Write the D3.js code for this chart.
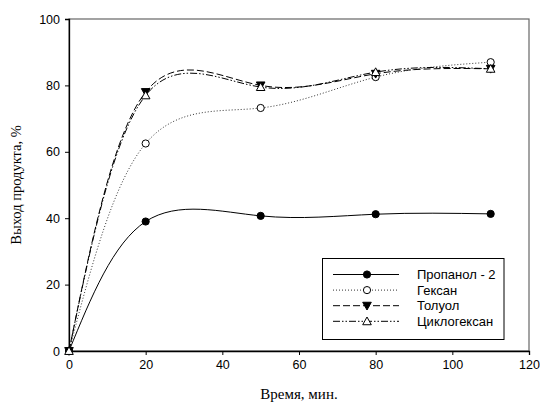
<!DOCTYPE html>
<html>
<head>
<meta charset="utf-8">
<script src="https://cdn.jsdelivr.net/npm/d3@7"></script>
<style>
  body { margin: 0; background: #fff; }
  svg { display: block; }
</style>
</head>
<body>
<svg id="chart" width="540" height="403"></svg>
<script>
const time = [0, 20, 50, 80, 110];
const propanol = [0, 39, 40.7, 41.2, 41.3];
const hexane = [0, 62.5, 73.2, 82.5, 87];
const toluene = [0, 78, 80, 83.5, 85];
const cyclohexane = [0, 77, 79.5, 84, 85];
const xTicks = [0, 20, 40, 60, 80, 100, 120];
const yTicks = [0, 20, 40, 60, 80, 100];

const series = [
  { name: 'Пропанол - 2', values: propanol, dash: null, marker: 'circle', fill: '#000' },
  { name: 'Гексан', values: hexane, dash: '1,2', marker: 'circle', fill: '#fff' },
  { name: 'Толуол', values: toluene, dash: '7,3', marker: 'down', fill: '#000' },
  { name: 'Циклогексан', values: cyclohexane, dash: '7,2,1.5,2,1.5,2', marker: 'up', fill: '#fff' }
];

const margin = { top: 19, right: 11, bottom: 52, left: 69 };
const width = 540, height = 403;
const svg = d3.select('#chart');

const x = d3.scaleLinear([0, 120], [margin.left, width - margin.right]);
const y = d3.scaleLinear([0, 100], [height - margin.bottom, margin.top]);

// frame
svg.append('rect')
  .attr('x', x(0)).attr('y', y(100))
  .attr('width', x(120) - x(0)).attr('height', y(0) - y(100))
  .attr('fill', 'none').attr('stroke', '#666').attr('stroke-width', 1.2);

const font = 'Liberation Sans, Arial, sans-serif';
const serif = 'Liberation Serif, Times New Roman, serif';

svg.append('g')
  .attr('transform', `translate(0,${y(0)})`)
  .call(d3.axisBottom(x).tickValues(xTicks).tickSize(4).tickPadding(5))
  .call(g => g.selectAll('text').attr('font-family', font).attr('font-size', 12.5).attr('fill', '#000'))
  .call(g => g.select('.domain').attr('stroke-width', 1.3));

svg.append('g')
  .attr('transform', `translate(${x(0)},0)`)
  .call(d3.axisLeft(y).tickValues(yTicks).tickSize(4).tickPadding(5))
  .call(g => g.selectAll('text').attr('font-family', font).attr('font-size', 12.5).attr('fill', '#000'))
  .call(g => g.select('.domain').attr('stroke-width', 1.3));

svg.append('text')
  .attr('x', (x(0) + x(120)) / 2).attr('y', 399)
  .attr('text-anchor', 'middle')
  .attr('font-family', serif).attr('font-size', 15)
  .text('Время, мин.');

svg.append('text')
  .attr('transform', `translate(21,${(y(0) + y(100)) / 2}) rotate(-90)`)
  .attr('text-anchor', 'middle')
  .attr('font-family', serif).attr('font-size', 14.5)
  .text('Выход продукта, %');

const line = d3.line()
  .curve(d3.curveNatural)
  .x((d, i) => x(time[i]))
  .y(d => y(d));

const plot = svg.append('g');

function drawMarker(g, s, cx, cy) {
  if (s.marker === 'circle') {
    g.append('circle').attr('cx', cx).attr('cy', cy).attr('r', 3.6)
      .attr('fill', s.fill).attr('stroke', '#000').attr('stroke-width', 1);
  } else {
    const r = 4.3;
    const pts = s.marker === 'down'
      ? [[cx - r, cy - r * 0.8], [cx + r, cy - r * 0.8], [cx, cy + r]]
      : [[cx - r, cy + r * 0.8], [cx + r, cy + r * 0.8], [cx, cy - r]];
    g.append('path').attr('d', 'M' + pts.join('L') + 'Z')
      .attr('fill', s.fill).attr('stroke', '#000').attr('stroke-width', 1);
  }
}

series.forEach(s => {
  plot.append('path')
    .attr('d', line(s.values))
    .attr('fill', 'none')
    .attr('stroke', s.dash === '1,2' ? '#333' : '#000')
    .attr('stroke-width', 1)
    .attr('stroke-dasharray', s.dash);
});
series.forEach(s => {
  s.values.forEach((v, i) => drawMarker(plot, s, x(time[i]), y(v)));
});

// legend
const legend = svg.append('g');
legend.append('rect')
  .attr('x', 322.5).attr('y', 258.5).attr('width', 181.5).attr('height', 81)
  .attr('fill', '#fff').attr('stroke', '#000').attr('stroke-width', 1);
series.forEach((s, i) => {
  const ly = 274.5 + i * 15.6;
  legend.append('line')
    .attr('x1', 333).attr('x2', 399).attr('y1', ly).attr('y2', ly)
    .attr('stroke', s.dash === '1,2' ? '#333' : '#000').attr('stroke-width', 1)
    .attr('stroke-dasharray', s.dash);
  drawMarker(legend, s, 367, ly);
  legend.append('text')
    .attr('x', 417).attr('y', ly + 4.5)
    .attr('font-family', font).attr('font-size', 13)
    .text(s.name);
});
</script>
</body>
</html>
